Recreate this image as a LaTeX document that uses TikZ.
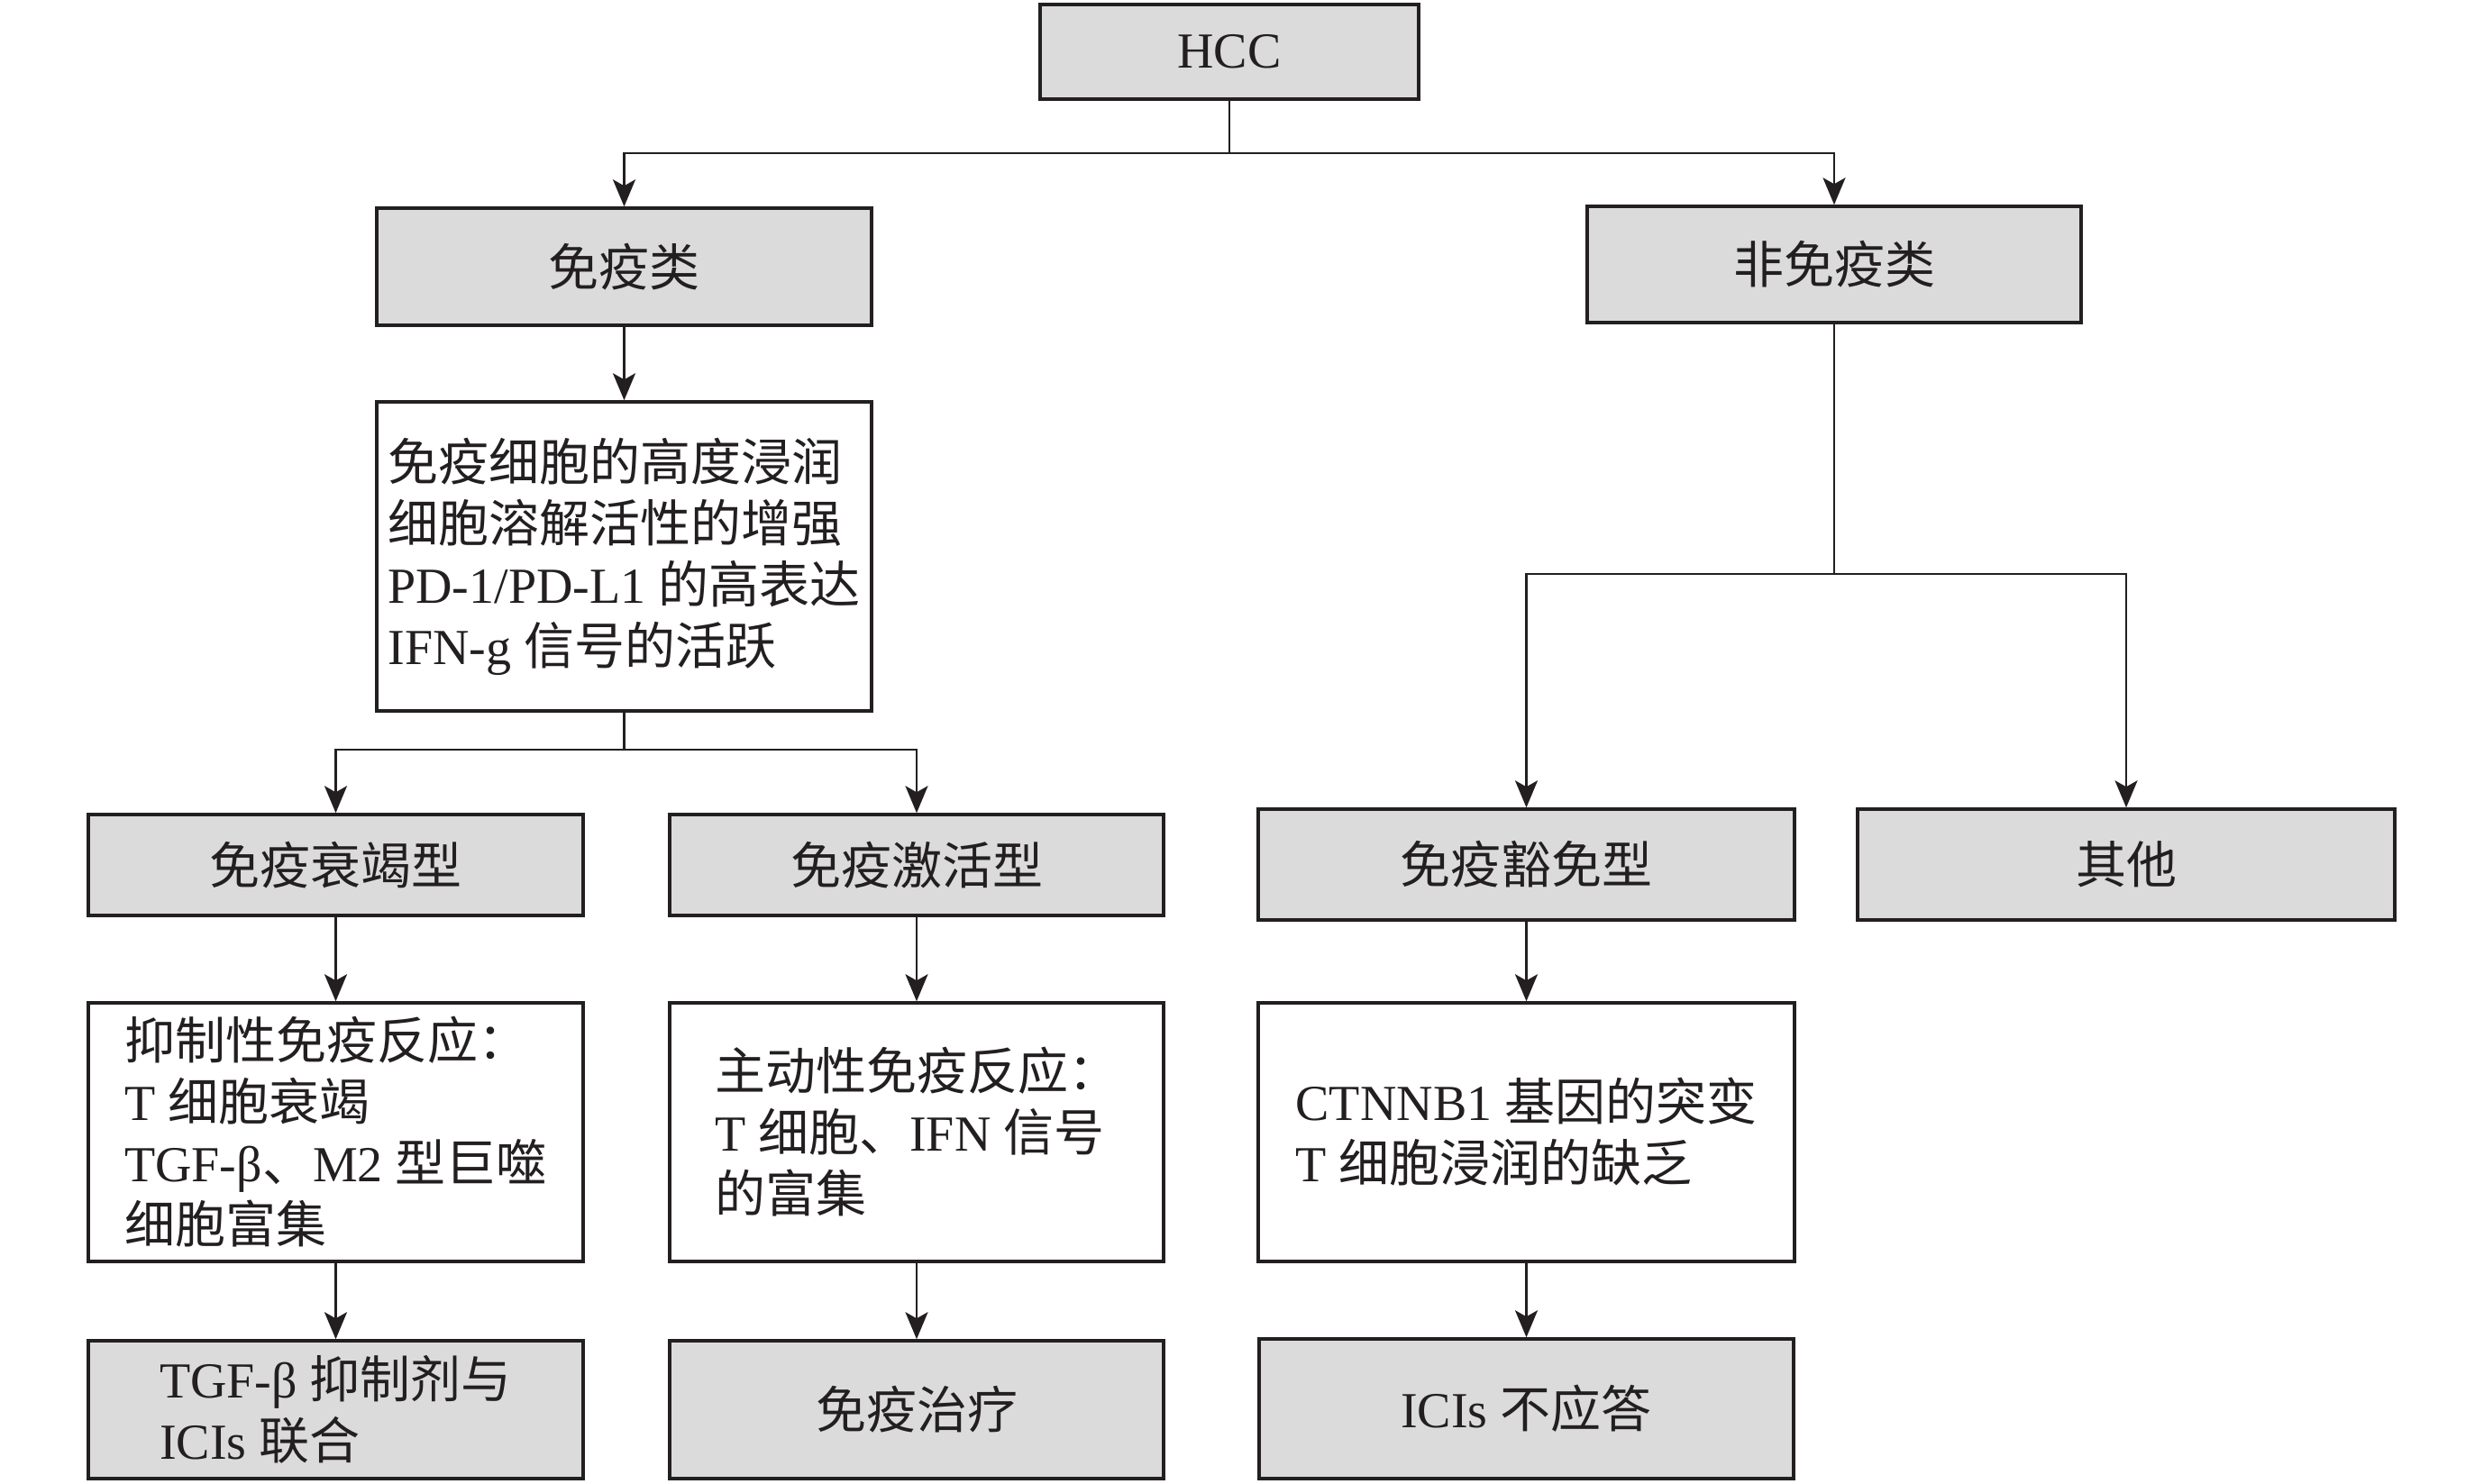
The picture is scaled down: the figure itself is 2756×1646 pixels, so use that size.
\documentclass[tikz,border=0pt]{standalone}
\usepackage{fontspec}
\setmainfont{Liberation Serif}
\newfontfamily\cjkf{Noto Sans CJK SC}
\newcommand{\zhs}[1]{{\cjkf #1}}
\usetikzlibrary{arrows.meta}
\definecolor{ink}{HTML}{231F20}
\definecolor{boxgray}{HTML}{DBDBDB}
\begin{document}
\begin{tikzpicture}[x=1pt,y=-1pt,
  box/.style={draw=ink, line width=3.5pt, rectangle, inner sep=0pt, align=left, text=ink,
              font=\fontsize{56}{68}\selectfont},
  gbox/.style={box, fill=boxgray},
  wbox/.style={box, fill=white},
  conn/.style={draw=ink, line width=2.6pt},
  arr/.style={conn, -{Stealth[length=30pt,width=25pt,inset=7pt]}},
]
\useasboundingbox[fill=white] (0,0) rectangle (2756,1646);

% left branch
\node[gbox, minimum width=420pt, minimum height=105pt] (hcc) at (1364,57.5) {HCC};
\node[gbox, minimum width=549pt, minimum height=130pt] (imm) at (692.5,296) {\zhs{免疫类}};
\node[wbox, minimum width=549pt, minimum height=343pt] (feat) at (692.5,617.5)
  {\zhs{免疫细胞的高度浸润}\\\zhs{细胞溶解活性的增强}\\PD-1/PD-L1 \zhs{的高表达}\\IFN-g \zhs{信号的活跃}};
\node[gbox, minimum width=549pt, minimum height=112pt] (exh) at (372.5,960) {\zhs{免疫衰竭型}};
\node[gbox, minimum width=548pt, minimum height=112pt] (act) at (1017,960) {\zhs{免疫激活型}};
\node[wbox, minimum width=549pt, minimum height=287pt] (supp) at (372.5,1256.5)
  {\zhs{抑制性免疫反应：}\\T \zhs{细胞衰竭}\\TGF-β\zhs{、}M2 \zhs{型巨噬}\\\zhs{细胞富集}};
\node[wbox, minimum width=548pt, minimum height=287pt] (actr) at (1017,1256.5)
  {\zhs{主动性免疫反应：}\\T \zhs{细胞、}IFN \zhs{信号}\\\zhs{的富集}};
\node[gbox, minimum width=549pt, minimum height=153pt] (comb) at (372.5,1564.5)
  {TGF-β \zhs{抑制剂与}\\ICIs \zhs{联合}};
\node[gbox, minimum width=548pt, minimum height=153pt] (ther) at (1017,1564.5) {\zhs{免疫治疗}};

% right branch
\node[gbox, minimum width=548pt, minimum height=129pt] (non) at (2035,293.5) {\zhs{非免疫类}};
\node[gbox, minimum width=595pt, minimum height=123pt] (excl) at (1693.5,959.5) {\zhs{免疫豁免型}};
\node[gbox, minimum width=596pt, minimum height=123pt] (oth) at (2359,959.5) {\zhs{其他}};
\node[wbox, minimum width=595pt, minimum height=287pt] (ctn) at (1693.5,1256.5)
  {CTNNB1 \zhs{基因的突变}\\T \zhs{细胞浸润的缺乏}};
\node[gbox, minimum width=593pt, minimum height=155pt] (nores) at (1693.5,1563.5) {ICIs \zhs{不应答}};

% junctions
\coordinate (j1) at (1364,170);
\coordinate (j2) at (692.5,832);
\coordinate (j3) at (2035,637);

% connectors
\draw[conn] (hcc.south) -- (j1);
\draw[arr] (j1) -| (imm.north);
\draw[arr] (j1) -| (non.north);
\draw[arr] (imm.south) -- (feat.north);
\draw[conn] (feat.south) -- (j2);
\draw[arr] (j2) -| (exh.north);
\draw[arr] (j2) -| (act.north);
\draw[arr] (exh.south) -- (supp.north);
\draw[arr] (act.south) -- (actr.north);
\draw[arr] (supp.south) -- (comb.north);
\draw[arr] (actr.south) -- (ther.north);
\draw[conn] (non.south) -- (j3);
\draw[arr] (j3) -| (excl.north);
\draw[arr] (j3) -| (oth.north);
\draw[arr] (excl.south) -- (ctn.north);
\draw[arr] (ctn.south) -- (nores.north);
\end{tikzpicture}
\end{document}
